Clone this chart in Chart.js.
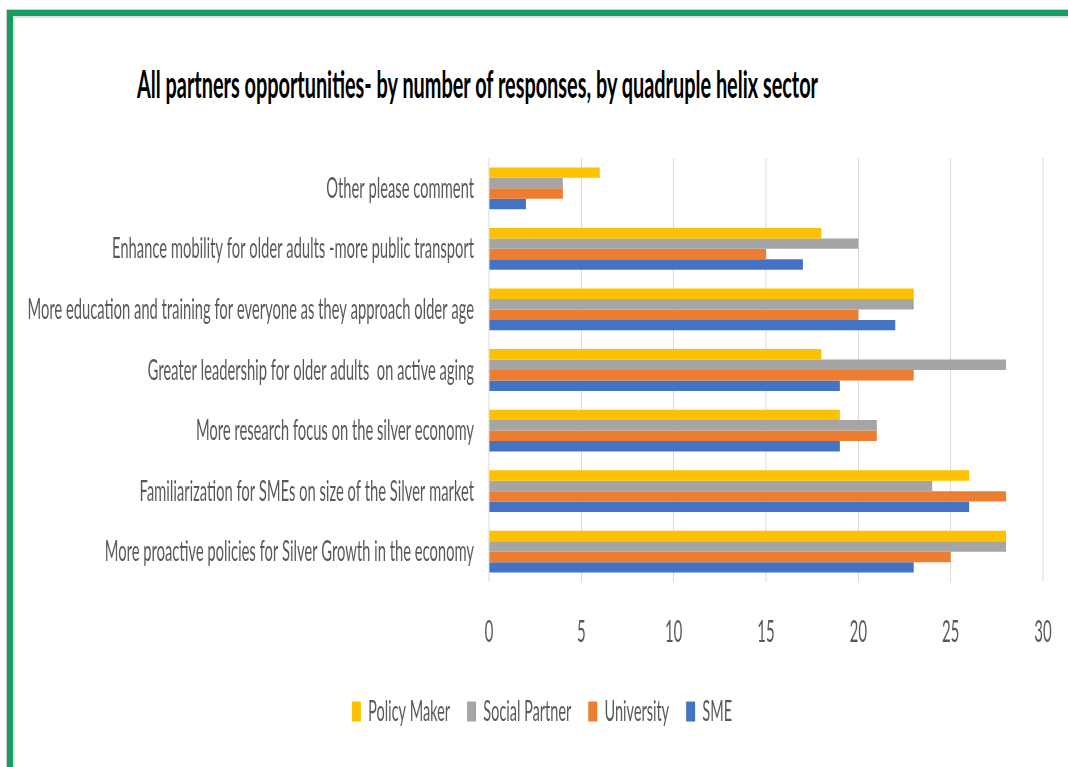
<!DOCTYPE html>
<html>
<head>
<meta charset="utf-8">
<script src="https://cdn.jsdelivr.net/npm/chart.js@4.4.1/dist/chart.umd.min.js"></script>
<style>
  html, body { margin: 0; padding: 0; background: #fff; }
  body { width: 1068px; height: 767px; position: relative; overflow: hidden; }
  #frameOuter { position: absolute; left: 6px; top: 9px; right: -10px; bottom: -10px;
    border-left: 1px solid #cfcfcf; border-top: 1px solid #cfcfcf; }
  #frame { position: absolute; left: 0; top: 0; right: 0; bottom: 0;
    border-left: 6px solid #1a9b60; border-top: 6px solid #1a9b60; }
  #frameInner { position: absolute; left: 0; top: 0; right: 0; bottom: 0;
    border-left: 2px solid #e2e2e2; border-top: 2px solid #e2e2e2; }
  #title { position: absolute; left: 137px; top: 64px; white-space: nowrap;
    font-family: Lato, "Open Sans", sans-serif; font-weight: 700; font-size: 38px; line-height: 38px;
    color: #000; transform-origin: 0 0; }
  #chartWrap { position: absolute; left: 0; top: 0; transform-origin: 0 0; }
</style>
</head>
<body>
<div id="frameOuter"><div id="frame"><div id="frameInner"></div></div></div>
<div id="title">All partners opportunities- by number of responses, by quadruple helix sector</div>
<div id="chartWrap"><canvas id="c"></canvas></div>
<script>
// ---- data ----
const categories = [
  "Other please comment",
  "Enhance mobility for older adults -more public transport",
  "More education and training for everyone as they approach older age",
  "Greater leadership for older adults  on active aging",
  "More research focus on the silver economy",
  "Familiarization for SMEs on size of the Silver market",
  "More proactive policies for Silver Growth in the economy"
];
const seriesNames = ["Policy Maker", "Social Partner", "University", "SME"];
const policyMaker   = [6, 18, 23, 18, 19, 26, 28];
const socialPartner = [4, 20, 23, 28, 21, 24, 28];
const university    = [4, 15, 20, 23, 21, 28, 25];
const sme           = [2, 17, 22, 19, 19, 26, 23];
const xTicks = [0, 5, 10, 15, 20, 25, 30];

// ---- horizontal condensation (reference text is squeezed) ----
const S = 0.5;
const W = Math.round(1068 / S), H = 767;
const canvas = document.getElementById('c');
canvas.width = W; canvas.height = H;
canvas.style.width = W + 'px'; canvas.style.height = H + 'px';
document.getElementById('chartWrap').style.transform = 'scaleX(' + S + ')';

// fit title width
const t = document.getElementById('title');
const natW = t.getBoundingClientRect().width;
t.style.transform = 'scaleX(' + (681 / natW) + ')';

const colors = ["#FFC000", "#A5A5A5", "#ED7D31", "#4472C4"];
const values = [policyMaker, socialPartner, university, sme];
const padLeft = 50, padRight = 18;

new Chart(canvas, {
  type: 'bar',
  data: {
    labels: categories,
    datasets: seriesNames.map((n, i) => ({
      label: n,
      data: values[i],
      backgroundColor: colors[i],
      borderWidth: 0,
      barPercentage: 1.0,
      categoryPercentage: 0.69
    }))
  },
  options: {
    indexAxis: 'y',
    responsive: false,
    animation: false,
    devicePixelRatio: 1,
    layout: { padding: { left: padLeft, right: padRight, top: 158, bottom: 31 } },
    scales: {
      x: {
        min: 0, max: 30,
        afterBuildTicks: (scale) => { scale.ticks = xTicks.map(v => ({ value: v })); },
        grid: { color: '#d9d9d9', lineWidth: 2, drawTicks: false },
        border: { display: false },
        ticks: { color: '#595959', font: { family: 'Lato', size: 30 }, padding: 32, maxRotation: 0 },
        afterFit: (scale) => { scale.height = 81; scale.paddingRight = 50; }
      },
      y: {
        grid: { display: false, drawTicks: false },
        border: { display: false },
        ticks: { color: '#595959', font: { family: 'Lato', size: 29.5 }, padding: 30, autoSkip: false },
        afterFit: (scale) => { scale.width = 978 - padLeft; }
      }
    },
    plugins: {
      legend: {
        position: 'bottom',
        labels: { boxWidth: 18, boxHeight: 20, color: '#595959', font: { family: 'Lato', size: 29 }, padding: 34 }
      },
      title: { display: false },
      tooltip: { enabled: false }
    }
  }
});
</script>
</body>
</html>
